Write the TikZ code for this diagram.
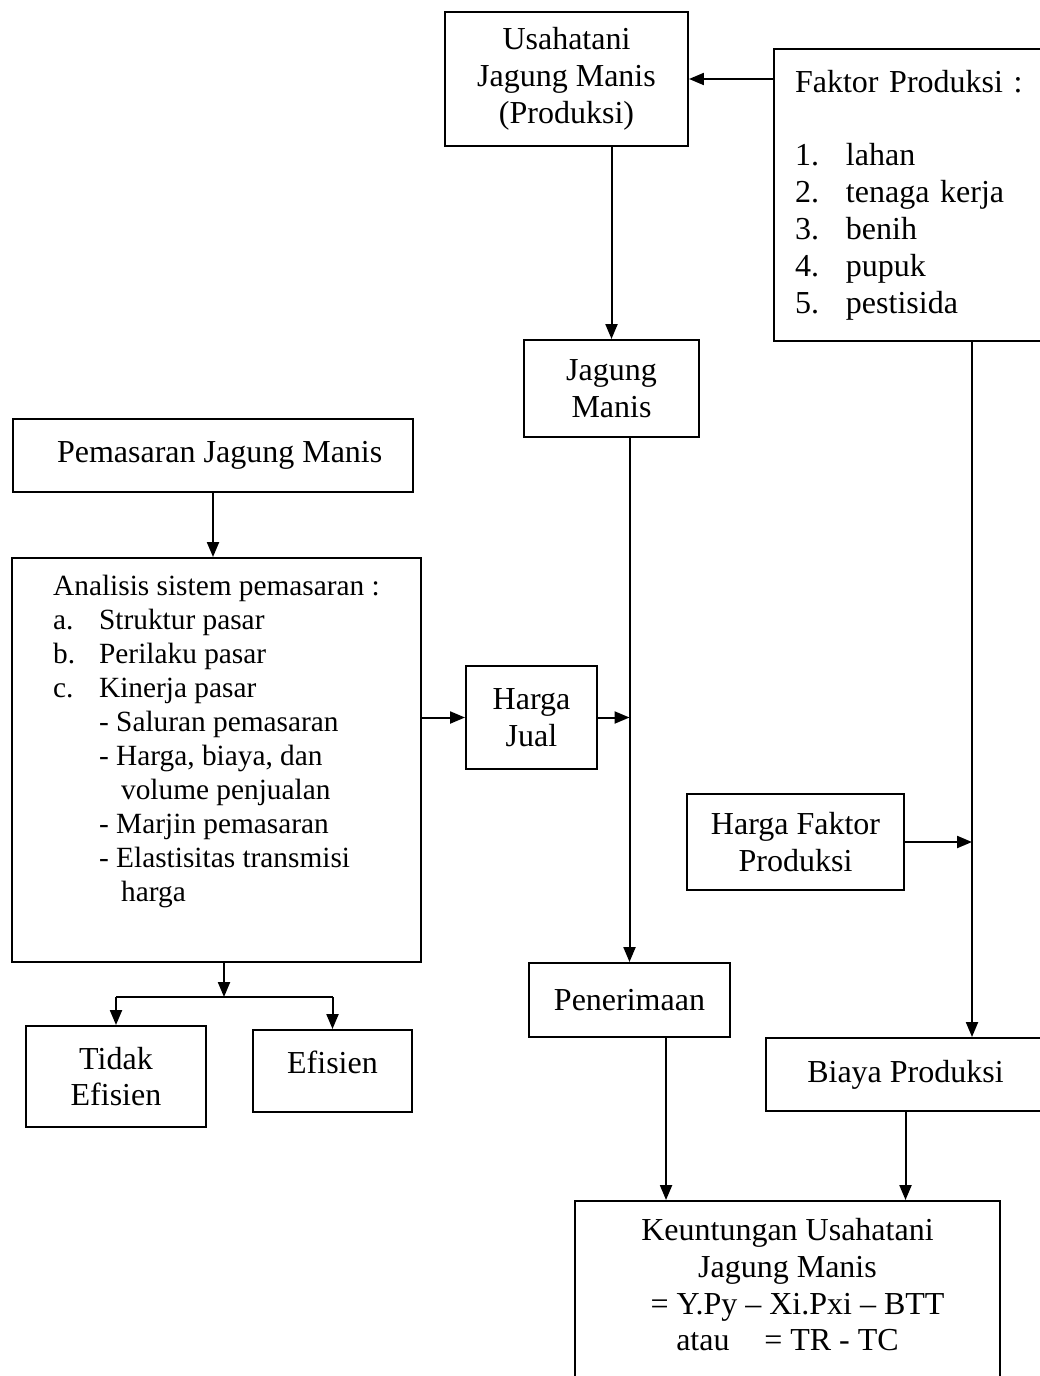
\documentclass[tikz,border=0pt]{standalone}
\usepackage{fontspec}
\setmainfont{Liberation Serif}
\usetikzlibrary{arrows.meta}

\begin{document}
\begin{tikzpicture}[x=0.375pt, y=-0.375pt, line width=0.75pt,
  >={Triangle[length=5.6pt, width=4.5pt]},
  box/.style={draw, align=center, inner sep=0pt, font=\fontsize{12}{13.8}\selectfont}]
\useasboundingbox (0,0) rectangle (1039,1376);

\node[box, minimum width=91.125pt, minimum height=50.25pt] (usaha) at (566.5,79) {Usahatani\\Jagung Manis\\(Produksi)};
\node[box, anchor=north west, align=left, text width=86.25pt, inner xsep=7.875pt, minimum height=109.5pt] (faktor) at (773,48) {Faktor Produksi :\\[13.8pt]
  \makebox[19.125pt][l]{1.}lahan\\
  \makebox[19.125pt][l]{2.}tenaga kerja\\
  \makebox[19.125pt][l]{3.}benih\\
  \makebox[19.125pt][l]{4.}pupuk\\
  \makebox[19.125pt][l]{5.}pestisida};
\node[box, minimum width=65.625pt, minimum height=36.375pt] (jagung) at (611.5,388.5) {Jagung\\Manis};
\node[box, minimum width=150pt, minimum height=27.375pt] (pemasaran) at (213,455.5) {\hspace*{5pt}Pemasaran Jagung Manis};
\node[box, align=left, minimum width=153.375pt, minimum height=151.5pt, font=\fontsize{11}{12.75}\selectfont] (analisis) at (216.5,760) {Analisis sistem pemasaran :\\
  \makebox[17.25pt][l]{a.}Struktur pasar\\
  \makebox[17.25pt][l]{b.}Perilaku pasar\\
  \makebox[17.25pt][l]{c.}Kinerja pasar\\
  \hspace*{17.25pt}- Saluran pemasaran\\
  \hspace*{17.25pt}- Harga, biaya, dan\\
  \hspace*{25.5pt}volume penjualan\\
  \hspace*{17.25pt}- Marjin pemasaran\\
  \hspace*{17.25pt}- Elastisitas transmisi\\
  \hspace*{25.5pt}harga\\
  \strut};
\node[box, minimum width=49.125pt, minimum height=38.625pt] (hjual) at (531.5,717.5) {Harga\\Jual};
\node[box, minimum width=75.375pt, minimum height=27.75pt] (penerimaan) at (629.5,1000) {Penerimaan};
\node[box, minimum width=81.375pt, minimum height=36pt] (hfaktor) at (795.5,842) {Harga Faktor\\Produksi};
\node[box, minimum width=104.625pt, minimum height=27.375pt] (biaya) at (905.5,1074.5) {Biaya Produksi};
\node[box, minimum width=159.375pt, minimum height=67.125pt, text depth=4.5pt] (untung) at (787.5,1290.5) {Keuntungan Usahatani\\Jagung Manis\\\hspace*{7.5pt}= Y.Py -- Xi.Pxi -- BTT\\atau\hspace{13pt}= TR - TC};
\node[box, minimum width=67.5pt, minimum height=37.875pt] (tidak) at (116,1076.5) {Tidak\\Efisien};
\node[box, minimum width=59.625pt, minimum height=30.75pt, text depth=6.75pt] (efisien) at (332.5,1071) {Efisien};

\coordinate (kx) at (972,340);
\coordinate (split) at (224,997);

\draw[->] (faktor.west |- usaha.east) -- (usaha.east);
\draw[->] (usaha.south -| jagung.north) -- (jagung.north);
\draw[->] (jagung.south -| penerimaan.north) -- (penerimaan.north);
\draw[->] (pemasaran.south) -- (pemasaran.south |- analisis.north);
\draw[->] (analisis.east |- hjual.west) -- (hjual.west);
\draw[->] (hjual.east) -- (hjual.east -| penerimaan.north);
\draw[->] (kx) -- (kx |- biaya.north);
\draw[->] (hfaktor.east) -- (hfaktor.east -| kx);
\draw[->] ([xshift=13.7pt]penerimaan.south) -- ([xshift=13.7pt]penerimaan.south |- untung.north);
\draw[->] (biaya.south) -- (biaya.south |- untung.north);
\draw[->] (split |- analisis.south) -- (split);
\draw (split -| tidak.north) -- (split -| efisien.north);
\draw[->] (split -| tidak.north) -- (tidak.north);
\draw[->] (split -| efisien.north) -- (efisien.north);
\end{tikzpicture}
\end{document}
